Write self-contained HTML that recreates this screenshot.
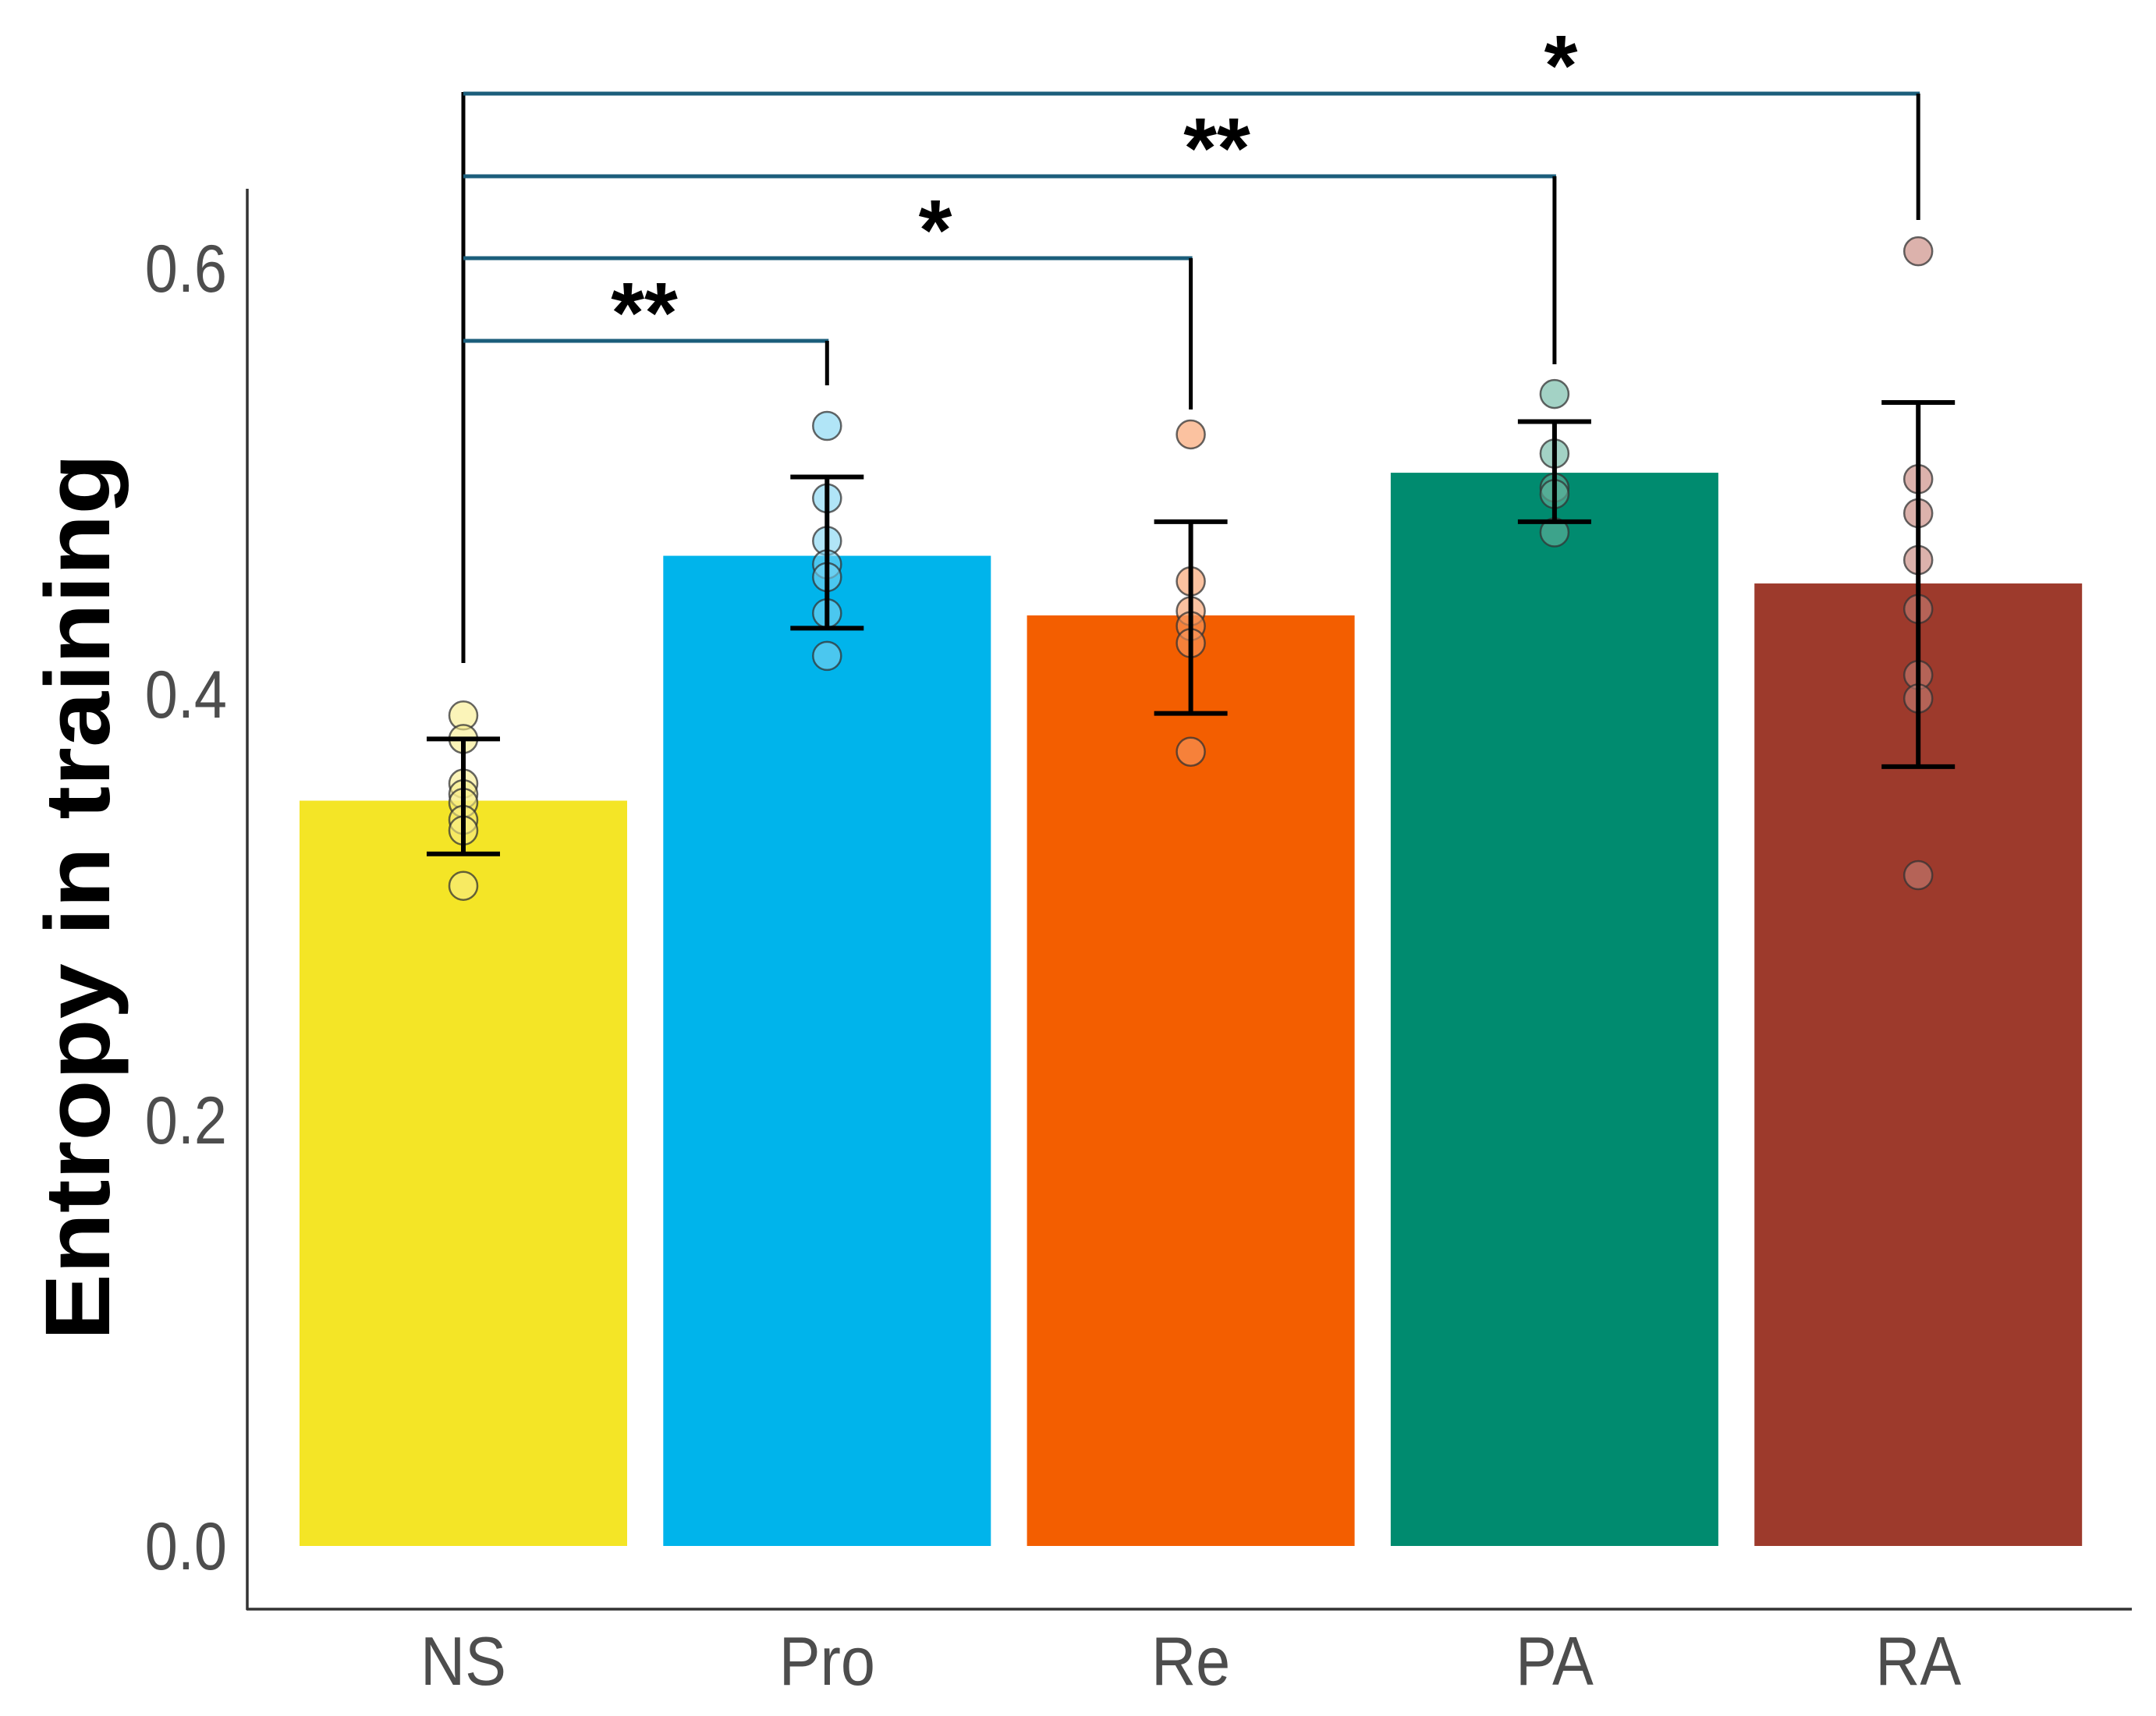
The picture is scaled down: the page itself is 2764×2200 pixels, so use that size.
<!DOCTYPE html>
<html><head><meta charset="utf-8"><style>
html,body{margin:0;padding:0;background:#fff;}
svg{display:block;}
</style></head><body>
<svg id="chart" width="2764" height="2200" viewBox="0 0 2764 2200" xmlns="http://www.w3.org/2000/svg" font-family="Liberation Sans, Arial, sans-serif"></svg>
<script>
const categories = ["NS","Pro","Re","PA","RA"];
const means = [0.350, 0.465, 0.437, 0.504, 0.452];
const errLow = [0.325, 0.431, 0.391, 0.481, 0.366];
const errHigh = [0.379, 0.502, 0.481, 0.528, 0.537];
const pointsNS = [0.390,0.379,0.358,0.353,0.349,0.341,0.336,0.310];
const pointsPro = [0.526,0.492,0.472,0.461,0.455,0.438,0.418];
const pointsRe = [0.522,0.453,0.439,0.432,0.424,0.373];
const pointsPA = [0.541,0.513,0.497,0.494,0.476];
const pointsRA = [0.608,0.501,0.485,0.463,0.440,0.409,0.398,0.315];
const yTicks = [0.0,0.2,0.4,0.6];
const sigTargets = [1,2,3,4];
const sigLabels = ["**","*","**","*"];
const colors = ["#f4e526","#00b4eb","#f35e00","#008b6f","#9d3a2c"];
const pointFill = ["#f8ec8a","#7dd3f2","#f89a60","#66b49f","#c47f75"];

const svg = document.getElementById('chart');
const NS = 'http://www.w3.org/2000/svg';
const y0 = 1982, yScale = 2730;
function yPos(v){ return y0 - v*yScale; }
function xPos(i){ return 594 + i*466.3; }
function mk(tag, attrs, parent){
  const e = document.createElementNS(NS, tag);
  for (const k in attrs) e.setAttribute(k, attrs[k]);
  (parent||svg).appendChild(e);
  return e;
}
const allPoints = [pointsNS,pointsPro,pointsRe,pointsPA,pointsRA];

categories.forEach((c,i)=>{
  const r = mk('rect',{x:xPos(i)-210,y:yPos(means[i]),width:420,height:yPos(0)-yPos(means[i]),fill:colors[i]});
  
  
});
categories.forEach((c,i)=>{
  allPoints[i].forEach(v=>{
    const p = mk('circle',{cx:xPos(i),cy:yPos(v),r:18,fill:pointFill[i],'fill-opacity':0.6,stroke:'#333','stroke-width':2.5,'stroke-opacity':0.75});
    
    
  });
});
categories.forEach((c,i)=>{
  const g = mk('g',{stroke:'#000','stroke-width':6,fill:'none'});
  
  
  const x = xPos(i);
  mk('line',{x1:x,x2:x,y1:yPos(errLow[i]),y2:yPos(errHigh[i])},g);
  mk('line',{x1:x-47,x2:x+47,y1:yPos(errLow[i]),y2:yPos(errLow[i])},g);
  mk('line',{x1:x-47,x2:x+47,y1:yPos(errHigh[i]),y2:yPos(errHigh[i])},g);
});
const ax = mk('g',{stroke:'#333','stroke-width':3.5});


mk('line',{x1:317,x2:317,y1:242,y2:2064},ax);
mk('line',{x1:316,x2:2733,y1:2063,y2:2063},ax);
yTicks.forEach(t=>{
  const tx = mk('text',{x:0,y:0,transform:'translate(291,'+(yPos(t)+30)+') scale(0.88,1)','text-anchor':'end','font-size':86,fill:'#4d4d4d'});
  tx.textContent = t.toFixed(1);
  
  
});
categories.forEach((c,i)=>{
  const tx = mk('text',{x:0,y:0,transform:'translate('+xPos(i)+',2160) scale(0.9,1)','text-anchor':'middle','font-size':88,fill:'#4d4d4d'});
  tx.textContent = c;
  
  
});
const yt = mk('text',{x:0,y:0,transform:'translate(140,1150) rotate(-90)','text-anchor':'middle','font-size':118,'font-weight':'bold',fill:'#000',textLength:1137,lengthAdjust:'spacingAndGlyphs'});
yt.textContent = 'Entropy in training';



const bracketY = [437,331,226,120];
const dropEnd = [494,525,467,282];
const starPos = [826,1199,1560,2001];
const sg = mk('g',{});


mk('line',{x1:xPos(0),x2:xPos(0),y1:118,y2:850,stroke:'#000','stroke-width':5},sg);
sigTargets.forEach((t,k)=>{
  const by = bracketY[k];
  mk('line',{x1:xPos(0),x2:xPos(t)+2,y1:by,y2:by,stroke:'#1b5e7b','stroke-width':5},sg);
  mk('line',{x1:xPos(t),x2:xPos(t),y1:by,y2:dropEnd[k],stroke:'#000','stroke-width':5},sg);
  const st = mk('text',{x:starPos[k],y:by+2,'text-anchor':'middle','font-size':110,'font-weight':'bold',fill:'#000'},sg);
  st.textContent = sigLabels[k];
  
  
});
</script>
</body></html>
